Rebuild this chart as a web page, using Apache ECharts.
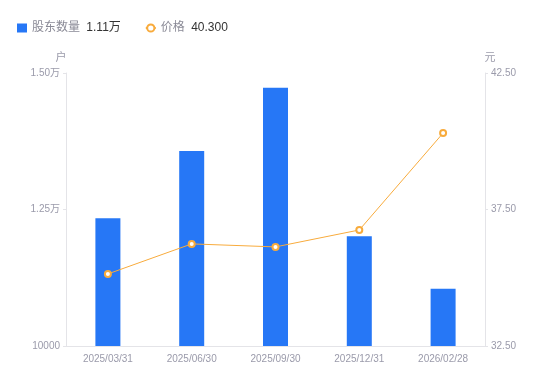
<!DOCTYPE html>
<html><head><meta charset="utf-8">
<script src="https://cdn.jsdelivr.net/npm/echarts@6/dist/echarts.min.js"></script>
<style>html,body{margin:0;padding:0;background:#fff}#c{width:550px;height:381px}</style>
</head><body><div id="c"></div>
<script>
var categories = ['2025/03/31','2025/06/30','2025/09/30','2025/12/31','2026/02/28'];
var holders = [12340, 13570, 14730, 12010, 11050];
var prices = [35.14, 36.24, 36.13, 36.75, 40.30];
var holderLabel = '1.11万';
var priceLabel = '40.300';

var chart = echarts.init(document.getElementById('c'));
var labelColor = '#9a9aaa';
chart.setOption({
  animation: false,
  textStyle: {fontFamily: '"Liberation Sans", "Noto Sans CJK SC", sans-serif'},
  legend: {
    left: 12, top: 17, itemGap: 24, itemWidth: 10, itemHeight: 9,
    data: [{name: '股东数量', icon: 'rect'}, {name: '价格'}],
    formatter: function (n) {
      return '{a|' + n + '} {b|' + (n === '股东数量' ? holderLabel : priceLabel) + '}';
    },
    textStyle: {
      rich: {
        a: {color: '#8a8a96', fontSize: 12},
        b: {color: '#333', fontSize: 12, padding: [0, 0, 0, 3]}
      }
    }
  },
  grid: {left: 66, right: 65, top: 73, bottom: 35},
  xAxis: {
    type: 'category', data: categories,
    axisLine: {lineStyle: {color: '#e4e4e8'}},
    axisTick: {show: false},
    axisLabel: {color: labelColor, fontSize: 10, margin: 8}
  },
  yAxis: [{
    type: 'value', name: '户', min: 10000, max: 15000, interval: 2500,
    nameTextStyle: {color: labelColor, fontSize: 11, padding: [0, 10, 0, 0]},
    nameGap: 10,
    axisLine: {show: true, lineStyle: {color: '#e4e4e8'}},
    axisTick: {show: true, length: 3, lineStyle: {color: '#e4e4e8'}},
    splitLine: {show: false},
    axisLabel: {color: labelColor, fontSize: 10, margin: 6,
      formatter: function (v) { return v > 10000 ? (v / 10000).toFixed(2) + '万' : String(v); }}
  }, {
    type: 'value', name: '元', min: 32.5, max: 42.5, interval: 5,
    nameTextStyle: {color: labelColor, fontSize: 11, padding: [0, 0, 0, 10]},
    nameGap: 10,
    axisLine: {show: true, lineStyle: {color: '#e4e4e8'}},
    axisTick: {show: true, length: 3, lineStyle: {color: '#e4e4e8'}},
    splitLine: {show: false},
    axisLabel: {color: labelColor, fontSize: 10, margin: 6,
      formatter: function (v) { return v.toFixed(2); }}
  }],
  series: [{
    name: '股东数量', type: 'bar', data: holders, barWidth: 25,
    itemStyle: {color: '#2677f6'}
  }, {
    name: '价格', type: 'line', yAxisIndex: 1, data: prices,
    symbol: 'emptyCircle', symbolSize: 6,
    lineStyle: {color: '#f8ab3c', width: 1},
    itemStyle: {color: '#f8ab3c', borderWidth: 1.5}
  }]
});
</script></body></html>
